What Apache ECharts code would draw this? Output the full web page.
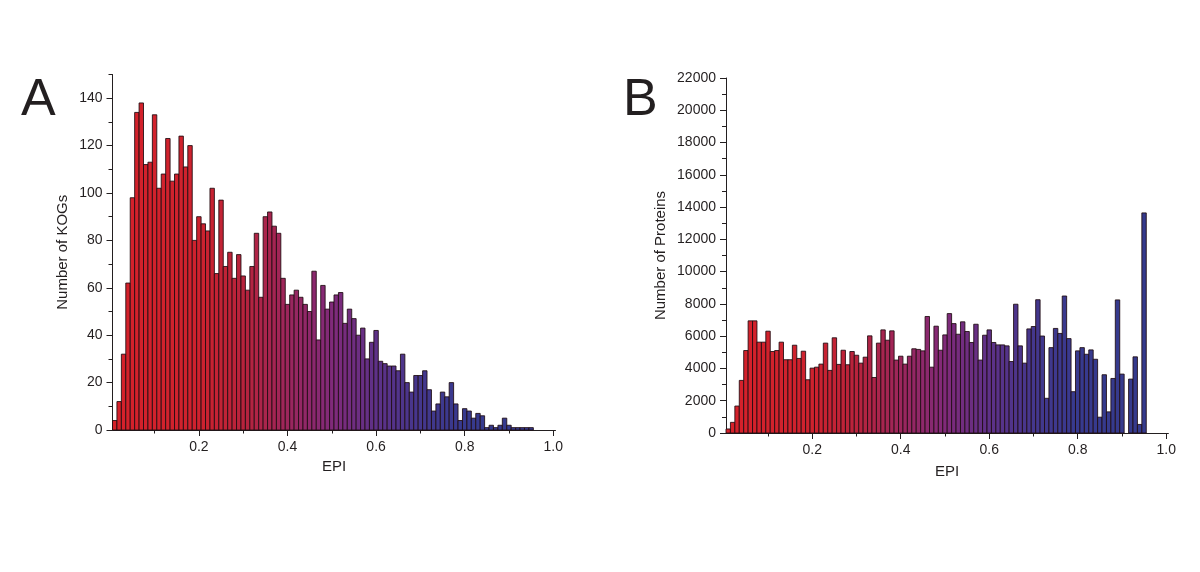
<!DOCTYPE html>
<html>
<head>
<meta charset="utf-8">
<script src="https://cdn.jsdelivr.net/npm/echarts@6/dist/echarts.min.js"></script>
<style>
html,body{margin:0;padding:0;background:#fff;}
#chart{width:1200px;height:572px;}
</style>
</head>
<body>
<div id="chart"></div>
<script>
// ---- data ----
const BIN_WIDTH = 0.01;
const binCenters = [];
for (let i = 1; i <= 95; i++) binCenters.push(+(i / 100).toFixed(2));

const kogCounts = [
  4, 12, 32, 62, 98, 134, 138, 112, 113, 133,
  102, 108, 123, 105, 108, 124, 111, 120, 80, 90,
  87, 84, 102, 66, 97, 69, 75, 64, 74, 65,
  59, 69, 83, 56, 90, 92, 86, 83, 64, 53,
  57, 59, 56, 53, 50, 67, 38, 61, 51, 54,
  57, 58, 45, 51, 47, 40, 43, 30, 37, 42,
  29, 28, 27, 27, 25, 32, 20, 16, 23, 23,
  25, 17, 8, 11, 16, 14, 20, 11, 4, 9,
  8, 5, 7, 6, 1, 2, 1, 2, 5, 2,
  1, 1, 1, 1, 1
];

const proteinCounts = [
  250, 660, 1670, 3260, 5110, 6950, 6950, 5630, 5630, 6310,
  5050, 5110, 5630, 4540, 4540, 5440, 4620, 5070, 3300, 4020,
  4080, 4270, 5570, 3880, 5900, 4250, 5130, 4230, 5050, 4820,
  4330, 4700, 6020, 3440, 5570, 6390, 5750, 6330, 4520, 4760,
  4270, 4760, 5220, 5180, 5090, 7220, 4080, 6620, 5130, 6080,
  7400, 6780, 6120, 6890, 6290, 5610, 6740, 4520, 6060, 6390,
  5610, 5460, 5460, 5400, 4430, 7980, 5400, 4330, 6450, 6600,
  8260, 6010, 2150, 5290, 6480, 6170, 8490, 5850, 2560, 5090,
  5290, 4880, 5150, 4570, 980, 3610, 1310, 3380, 8250, 3650,
  0, 3340, 4720, 530, 13640
];

const xMajorTicks = [0.2, 0.4, 0.6, 0.8, 1.0];
const xMinorTicks = [0.1, 0.3, 0.5, 0.7, 0.9];
const kogYTicks = [0, 20, 40, 60, 80, 100, 120, 140];
const kogYMinorTicks = [10, 30, 50, 70, 90, 110, 130, 150];
const protYTicks = [0, 2000, 4000, 6000, 8000, 10000, 12000, 14000, 16000, 18000, 20000, 22000];
const protYMinorTicks = [1000, 3000, 5000, 7000, 9000, 11000, 13000, 15000, 17000, 19000, 21000];

// ---- styling ----
const FONT = '"Liberation Sans", Arial, sans-serif';
const INK = '#231f20';
const colorStops = [
  [0.00, [214, 33, 42]],
  [0.20, [206, 34, 46]],
  [0.30, [184, 35, 60]],
  [0.40, [156, 38, 92]],
  [0.50, [128, 42, 122]],
  [0.60, [94, 49, 136]],
  [0.70, [68, 55, 141]],
  [0.80, [55, 58, 142]],
  [1.00, [52, 58, 140]]
];
function colorAt(x) {
  for (let i = 1; i < colorStops.length; i++) {
    if (x <= colorStops[i][0]) {
      const a = colorStops[i - 1], b = colorStops[i];
      const t = (x - a[0]) / (b[0] - a[0]);
      const c = a[1].map((v, k) => Math.round(v + (b[1][k] - v) * t));
      return 'rgb(' + c.join(',') + ')';
    }
  }
  const l = colorStops[colorStops.length - 1][1];
  return 'rgb(' + l.join(',') + ')';
}

function renderBin(params, api) {
  const x = api.value(0), y = api.value(1);
  if (!y) return null;
  const p0 = api.coord([x - BIN_WIDTH / 2, y]);
  const p1 = api.coord([x + BIN_WIDTH / 2, 0]);
  return {
    type: 'rect',
    shape: { x: p0[0], y: p0[1], width: p1[0] - p0[0], height: p1[1] - p0[1] },
    style: { fill: api.visual('color'), stroke: 'rgba(30,12,16,0.85)', lineWidth: 1 }
  };
}

function seriesData(values) {
  return binCenters.map((c, i) => ({ value: [c, values[i]], itemStyle: { color: colorAt(c) } }));
}

function majorX(gridIndex) {
  return {
    type: 'value', gridIndex, min: 0.005, max: 1.005, position: 'bottom',
    name: 'EPI', nameLocation: 'middle', nameGap: gridIndex === 0 ? 27 : 31,
    nameTextStyle: { fontFamily: FONT, fontSize: 15, color: INK },
    axisLine: { show: true, onZero: false, lineStyle: { color: INK, width: 1 } },
    axisTick: { show: true, length: 6, customValues: xMajorTicks, lineStyle: { color: INK } },
    axisLabel: { show: true, customValues: xMajorTicks, margin: 10, fontFamily: FONT, fontSize: 14, color: INK,
      formatter: v => (+v).toFixed(1) },
    splitLine: { show: false }
  };
}
function minorX(gridIndex) {
  return {
    type: 'value', gridIndex, min: 0.005, max: 1.005, position: 'bottom',
    axisLine: { show: false, onZero: false },
    axisTick: { show: true, length: 3.5, customValues: xMinorTicks, lineStyle: { color: INK } },
    axisLabel: { show: false },
    splitLine: { show: false }
  };
}
function majorY(gridIndex, max, ticks, name, gap) {
  return {
    type: 'value', gridIndex, min: 0, max, position: 'left',
    name, nameLocation: 'middle', nameGap: gap,
    nameTextStyle: { fontFamily: FONT, fontSize: 15, color: INK },
    axisLine: { show: true, onZero: false, lineStyle: { color: INK, width: 1 } },
    axisTick: { show: true, length: 6, customValues: ticks, lineStyle: { color: INK } },
    axisLabel: { show: true, customValues: ticks, margin: 10, fontFamily: FONT, fontSize: 14, color: INK,
      formatter: v => String(Math.round(v)) },
    splitLine: { show: false }
  };
}
function minorY(gridIndex, max, ticks) {
  return {
    type: 'value', gridIndex, min: 0, max, position: 'left',
    axisLine: { show: false, onZero: false },
    axisTick: { show: true, length: 4, customValues: ticks, lineStyle: { color: INK } },
    axisLabel: { show: false },
    splitLine: { show: false }
  };
}

const chart = echarts.init(document.getElementById('chart'), null, { renderer: 'canvas' });
chart.setOption({
  backgroundColor: '#ffffff',
  animation: false,
  title: [
    { text: 'A', left: 21, top: 75, padding: 0, textStyle: { fontFamily: FONT, fontSize: 52, fontWeight: 'normal', color: INK } },
    { text: 'B', left: 623, top: 75, padding: 0, textStyle: { fontFamily: FONT, fontSize: 52, fontWeight: 'normal', color: INK } }
  ],
  grid: [
    { left: 112.5, top: 74.5, width: 443, height: 355.5 },
    { left: 726, top: 78, width: 442.4, height: 355 }
  ],
  xAxis: [majorX(0), minorX(0), majorX(1), minorX(1)],
  yAxis: [
    majorY(0, 150, kogYTicks, 'Number of KOGs', 42),
    minorY(0, 150, kogYMinorTicks),
    majorY(1, 22000, protYTicks, 'Number of Proteins', 58),
    minorY(1, 22000, protYMinorTicks)
  ],
  series: [
    { type: 'custom', name: 'KOGs', xAxisIndex: 0, yAxisIndex: 0, renderItem: renderBin,
      encode: { x: 0, y: 1 }, data: seriesData(kogCounts) },
    { type: 'custom', name: 'Proteins', xAxisIndex: 2, yAxisIndex: 2, renderItem: renderBin,
      encode: { x: 0, y: 1 }, data: seriesData(proteinCounts) }
  ]
});
</script>
</body>
</html>
